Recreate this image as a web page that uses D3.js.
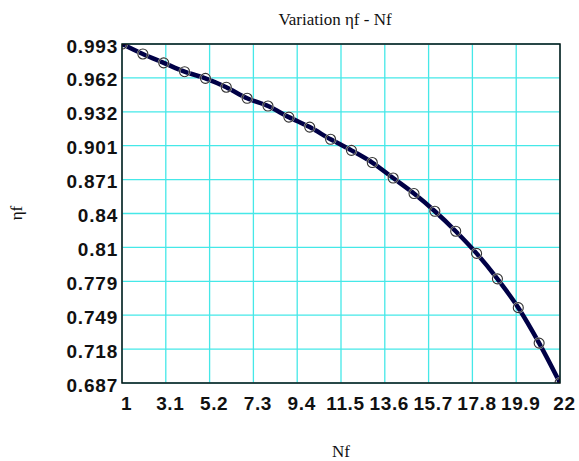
<!DOCTYPE html>
<html><head><meta charset="utf-8">
<script src="https://cdn.jsdelivr.net/npm/d3@7"></script>
<style>body{margin:0;background:#fff}svg{display:block}</style>
</head><body><svg id="c" width="579" height="461"></svg>
<script>
const nf = [1,2,3,4,5,6,7,8,9,10,11,12,13,14,15,16,17,18,19,20,21,22];
const etaf = [0.993,0.984,0.976,0.968,0.962,0.954,0.944,0.937,0.927,0.918,0.907,0.897,0.886,0.872,0.858,0.842,0.824,0.804,0.781,0.755,0.723,0.687];
const xTicks = [1,3.1,5.2,7.3,9.4,11.5,13.6,15.7,17.8,19.9,22];
const xTickLabels = ["1","3.1","5.2","7.3","9.4","11.5","13.6","15.7","17.8","19.9","22"];
const yTicks = [0.687,0.7176,0.7482,0.7788,0.8094,0.84,0.8706,0.9012,0.9318,0.9624,0.993];
const yTickLabels = ["0.687","0.718","0.749","0.779","0.81","0.84","0.871","0.901","0.932","0.962","0.993"];

const svg = d3.select("#c");
const L=122,R=560,T=44,B=383;
const x = d3.scaleLinear().domain([1,22]).range([L,R]);
const y = d3.scaleLinear().domain([0.687,0.993]).range([B,T]);

// grid
const g = svg.append("g");
g.selectAll("line.vx").data(xTicks).join("line")
  .attr("x1",d=>x(d)).attr("x2",d=>x(d)).attr("y1",T).attr("y2",B)
  .attr("stroke","#45e8e8").attr("stroke-width",1.3);
g.selectAll("line.hy").data(yTicks).join("line")
  .attr("y1",d=>y(d)).attr("y2",d=>y(d)).attr("x1",L).attr("x2",R)
  .attr("stroke","#45e8e8").attr("stroke-width",1.3);

svg.append("clipPath").attr("id","clip").append("rect")
  .attr("x",L).attr("y",T).attr("width",R-L).attr("height",B-T);

const pts = nf.map((d,i)=>[d,etaf[i]]);
const line = d3.line().x(d=>x(d[0])).y(d=>y(d[1])).curve(d3.curveMonotoneX);
const pg = svg.append("g").attr("clip-path","url(#clip)");
pg.append("path").attr("d",line(pts)).attr("fill","none")
  .attr("stroke","#000046").attr("stroke-width",4.5);
pg.selectAll("circle").data(pts).join("circle")
  .attr("cx",d=>x(d[0])).attr("cy",d=>y(d[1])).attr("r",5)
  .attr("fill","none").attr("stroke","#ffffff").attr("stroke-width",2.2).attr("stroke-opacity",0.6);
pg.selectAll("circle.m").data(pts).join("circle").attr("class","m")
  .attr("cx",d=>x(d[0])).attr("cy",d=>y(d[1])).attr("r",5)
  .attr("fill","none").attr("stroke","#333").attr("stroke-width",1.1);

// frame
svg.append("rect").attr("x",L).attr("y",T).attr("width",R-L).attr("height",B-T)
  .attr("fill","none").attr("stroke","#111").attr("stroke-width",1.5);

// axes via d3
const xAxis = d3.axisBottom(x).tickValues(xTicks).tickSize(0).tickPadding(0)
  .tickFormat((d,i)=>xTickLabels[i]);
const ax = svg.append("g").attr("transform",`translate(4,${B})`).call(xAxis);
ax.select(".domain").remove();
ax.selectAll("text").attr("dy",null).attr("y",27)
  .attr("font-family","'Liberation Sans', Arial, sans-serif").attr("font-weight","bold")
  .attr("font-size",19).attr("fill","#111").attr("letter-spacing",0.6);

const yAxis = d3.axisLeft(y).tickValues(yTicks).tickSize(0).tickPadding(4)
  .tickFormat((d,i)=>yTickLabels[i]);
const ay = svg.append("g").attr("transform",`translate(${L},2)`).call(yAxis);
ay.select(".domain").remove();
ay.selectAll("text").attr("font-family","'Liberation Sans', Arial, sans-serif")
  .attr("font-weight","bold").attr("font-size",19).attr("fill","#111")
  .attr("letter-spacing",0.8);

// titles
svg.append("text").attr("x",335).attr("y",25).attr("text-anchor","middle")
  .attr("font-family","'Liberation Serif','Times New Roman',serif").attr("font-size",17)
  .attr("fill","#111").text("Variation ηf - Nf");
svg.append("text").attr("x",341).attr("y",457).attr("text-anchor","middle")
  .attr("font-family","'Liberation Serif','Times New Roman',serif").attr("font-size",17)
  .attr("fill","#111").text("Nf");
svg.append("text").attr("transform","translate(22,213) rotate(-90)").attr("text-anchor","middle")
  .attr("font-family","'Liberation Serif','Times New Roman',serif").attr("font-size",17)
  .attr("fill","#111").text("ηf");
</script></body></html>
